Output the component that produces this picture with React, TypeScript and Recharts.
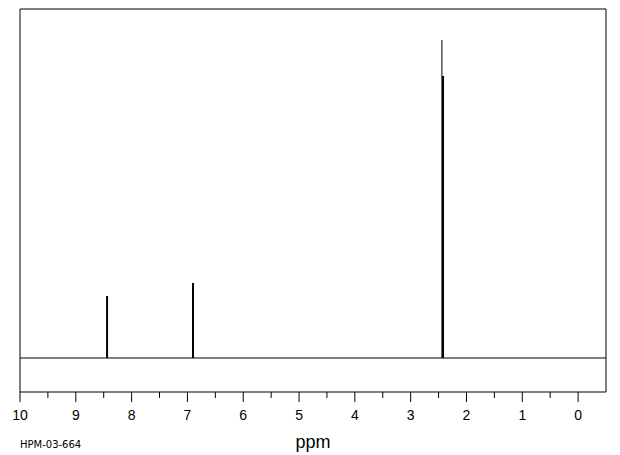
import React from "react";
import {
  ComposedChart,
  Line,
  XAxis,
  YAxis,
  ReferenceLine,
  ReferenceArea,
} from "recharts";

// chemical shift of each peak (ppm)
const peakPpm = [8.44, 6.9, 2.44, 2.42];
// peak intensity (arbitrary units)
const peakHeight = [62, 75, 318, 282];
// axis ticks (ppm)
const majorTicks = [10, 9, 8, 7, 6, 5, 4, 3, 2, 1, 0];
const minorTicks = [9.5, 8.5, 7.5, 6.5, 5.5, 4.5, 3.5, 2.5, 1.5, 0.5];
const xDomain = [-0.5, 10];
const yDomain = [-34, 349];
const xLabel = "ppm";
const sampleId = "HPM-03-664";

const allTicks = [...majorTicks, ...minorTicks].sort((a, b) => b - a);
const FONT = "'Liberation Sans', Arial, sans-serif";

const Tick = (props: any) => {
  const { x, y, payload } = props;
  const v = payload.value;
  const major = Number.isInteger(v);
  return (
    <g>
      <line x1={x} x2={x} y1={y} y2={y + (major ? 10 : 6)} stroke="#000" strokeWidth={1} />
      {major && (
        <text x={x} y={y + 28} textAnchor="middle" fontSize={14} fontFamily={FONT} fill="#000">
          {v}
        </text>
      )}
    </g>
  );
};

export default function App() {
  return (
    <div style={{ position: "absolute", left: 0, top: 0, width: 620, height: 455, background: "#fff" }}>
      <ComposedChart
        width={620}
        height={455}
        margin={{ top: 9, right: 14, bottom: 0, left: 20 }}
      >
        <XAxis
          type="number"
          dataKey="x"
          domain={xDomain}
          reversed
          ticks={allTicks}
          interval={0}
          tick={<Tick />}
          tickLine={false}
          axisLine={false}
          tickSize={0}
          tickMargin={0}
          height={63}
          allowDataOverflow
        />
        <YAxis type="number" domain={yDomain} hide allowDataOverflow />
        <ReferenceArea
          x1={xDomain[0]}
          x2={xDomain[1]}
          y1={yDomain[0]}
          y2={yDomain[1]}
          fill="none"
          stroke="#000"
          strokeWidth={1}
          ifOverflow="visible"
        />
        <ReferenceLine y={0} stroke="#000" strokeWidth={1} />
        {peakPpm.map((p, i) => (
          <Line
            key={i}
            data={[
              { x: p, y: 0 },
              { x: p, y: peakHeight[i] },
            ]}
            dataKey="y"
            stroke="#000"
            strokeWidth={i === 2 ? 1 : 2}
            dot={false}
            isAnimationActive={false}
            type="linear"
          />
        ))}
        <text x={313} y={448} textAnchor="middle" fontSize={18} fontFamily={FONT} fill="#000">
          {xLabel}
        </text>
        <text x={20} y={448} fontSize={10} fontFamily="'DejaVu Sans', sans-serif" fill="#000">
          {sampleId}
        </text>
      </ComposedChart>
    </div>
  );
}
